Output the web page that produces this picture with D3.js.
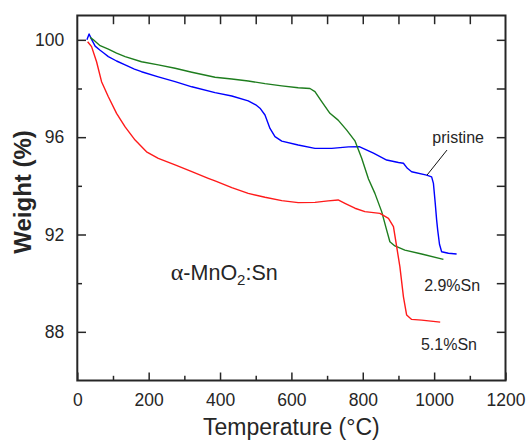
<!DOCTYPE html>
<html>
<head>
<meta charset="utf-8">
<script src="https://cdn.jsdelivr.net/npm/d3@7"></script>
<style>
  html, body { margin: 0; padding: 0; background: #fff; }
  svg { display: block; font-family: "Liberation Sans", Arial, sans-serif; }
</style>
</head>
<body>
<svg id="chart" width="527" height="441"></svg>
<script>
// TGA weight-loss curves: [temperature (°C), weight (%)]
const pristine = [
  [27, 100.00], [33, 100.24], [40, 100.02], [50, 99.74], [63, 99.58], [75, 99.45],
  [87, 99.31], [110, 99.13], [134, 98.97], [160, 98.80], [180, 98.69], [227, 98.48],
  [274, 98.28], [321, 98.07], [386, 97.83], [433, 97.69], [479, 97.49], [500, 97.33],
  [512, 97.19], [526, 96.91], [540, 96.36], [554, 96.02], [573, 95.84], [619, 95.68],
  [666, 95.54], [713, 95.54], [760, 95.60], [790, 95.61], [810, 95.48], [830, 95.34],
  [867, 95.06], [900, 94.96], [914, 94.93], [925, 94.72], [937, 94.58], [979, 94.44],
  [993, 94.37], [998, 94.10], [1003, 93.30], [1007, 92.60], [1010, 92.18], [1015, 91.60],
  [1021, 91.29], [1040, 91.23], [1063, 91.20]
];

const sn29 = [
  [36, 100.10], [45, 100.00], [64, 99.76], [87, 99.62], [110, 99.45], [134, 99.31],
  [180, 99.10], [227, 98.97], [274, 98.83], [321, 98.67], [386, 98.46], [433, 98.39],
  [479, 98.31], [526, 98.20], [573, 98.11], [619, 98.03], [652, 98.00], [666, 97.87],
  [685, 97.46], [708, 96.98], [731, 96.70], [755, 96.29], [778, 95.85], [797, 95.13],
  [816, 94.28], [834, 93.69], [853, 92.94], [867, 92.18], [876, 91.70], [890, 91.53],
  [918, 91.36], [965, 91.20], [1026, 90.98]
];

const sn51 = [
  [29, 99.92], [40, 99.72], [54, 99.10], [68, 98.28], [87, 97.66], [110, 96.98],
  [134, 96.42], [162, 95.88], [194, 95.40], [227, 95.13], [274, 94.86], [321, 94.58],
  [367, 94.31], [386, 94.20], [433, 93.93], [479, 93.69], [526, 93.53], [573, 93.39],
  [619, 93.31], [666, 93.32], [703, 93.38], [731, 93.42], [750, 93.28], [778, 93.08],
  [806, 92.94], [848, 92.87], [872, 92.66], [886, 92.32], [895, 91.50], [904, 90.68],
  [914, 89.44], [923, 88.69], [937, 88.51], [965, 88.48], [1017, 88.40]
];

const xMajorTicks = [0, 200, 400, 600, 800, 1000, 1200];
const xMinorTicks = [100, 300, 500, 700, 900, 1100];
const xMirrorTicks = [100, 200, 300, 400, 500, 600, 700, 800, 900, 1000, 1100];
const yMajorTicks = [88, 92, 96, 100];
const yMinorTicks = [90, 94, 98];
const yMirrorTicks = [88, 90, 92, 94, 96, 98, 100];

const seriesNames = ["pristine", "2.9%Sn", "5.1%Sn"];
const seriesData = [pristine, sn29, sn51];
const seriesColors = ["#0000ff", "#1e7d1e", "#ff1a1a"];

const W = 527, H = 441;
const margin = { top: 15.5, right: 21.5, bottom: 60.5, left: 77.3 };
const iw = W - margin.left - margin.right;
const ih = H - margin.top - margin.bottom;

const svg = d3.select("#chart");
const g = svg.append("g").attr("transform", `translate(${margin.left},${margin.top})`);

const x = d3.scaleLinear().domain([0, 1200]).range([0, iw]);
const y = d3.scaleLinear().domain([86, 101]).range([ih, 0]);

const ink = "#262626";

function styleAxis(sel, hideText) {
  sel.select(".domain").remove();
  sel.selectAll(".tick line").attr("stroke", ink).attr("stroke-width", 1.5);
  sel.selectAll(".tick text").attr("fill", ink).style("font-size", "17.5px")
     .style("font-family", "'Liberation Sans', Arial, sans-serif");
  if (hideText) sel.selectAll(".tick text").remove();
}

// bottom axis: major ticks with labels, minor ticks without
g.append("g").attr("transform", `translate(0,${ih})`)
  .call(d3.axisBottom(x).tickValues(xMajorTicks).tickSize(-8).tickPadding(13).tickFormat(d3.format("d")))
  .call(s => styleAxis(s, false));
g.append("g").attr("transform", `translate(0,${ih})`)
  .call(d3.axisBottom(x).tickValues(xMinorTicks).tickSize(-4.7).tickFormat(""))
  .call(s => styleAxis(s, true));

// left axis
g.append("g")
  .call(d3.axisLeft(y).tickValues(yMajorTicks).tickSize(-8.7).tickPadding(13).tickFormat(d3.format("d")))
  .call(s => styleAxis(s, false));
g.append("g")
  .call(d3.axisLeft(y).tickValues(yMinorTicks).tickSize(-4.7).tickFormat(""))
  .call(s => styleAxis(s, true));

// mirrored top and right ticks
g.append("g")
  .call(d3.axisTop(x).tickValues(xMirrorTicks).tickSize(-8.7).tickFormat(""))
  .call(s => styleAxis(s, true));
g.append("g").attr("transform", `translate(${iw},0)`)
  .call(d3.axisRight(y).tickValues(yMirrorTicks).tickSize(-8.7).tickFormat(""))
  .call(s => styleAxis(s, true));

// frame
g.append("rect").attr("x", 0).attr("y", 0).attr("width", iw).attr("height", ih)
  .attr("fill", "none").attr("stroke", ink).attr("stroke-width", 2);

// curves
const line = d3.line().x(d => x(d[0])).y(d => y(d[1]));
g.selectAll("path.curve").data(seriesData).join("path")
  .attr("class", "curve")
  .attr("d", line)
  .attr("fill", "none")
  .attr("stroke", (d, i) => seriesColors[i])
  .attr("stroke-width", 1.4)
  .attr("stroke-linejoin", "round");

// series labels
const labelStyle = s => s.attr("fill", ink).style("font-size", "16px");
g.append("text").attr("x", x(995)).attr("y", y(95.76)).text(seriesNames[0]).call(labelStyle);
g.append("text").attr("x", x(972)).attr("y", y(89.68)).text(seriesNames[1]).call(labelStyle);
g.append("text").attr("x", x(963)).attr("y", y(87.25)).text(seriesNames[2]).call(labelStyle);

// leader line from the "pristine" label to its curve
g.append("line")
  .attr("x1", x(1036)).attr("y1", y(95.47))
  .attr("x2", x(980)).attr("y2", y(94.44))
  .attr("stroke", "#111").attr("stroke-width", 1);

// sample name
const sample = g.append("text").attr("x", x(262)).attr("y", y(90.13))
  .attr("fill", ink).style("font-size", "21.5px");
sample.append("tspan").style("font-family", "'Liberation Serif', 'Times New Roman', serif").style("font-size", "24px").text("α");
sample.append("tspan").text("-MnO");
sample.append("tspan").attr("dy", 5).style("font-size", "15px").text("2");
sample.append("tspan").attr("dy", -5).text(":Sn");

// axis titles
svg.append("text")
  .attr("x", margin.left + iw / 2).attr("y", 435)
  .attr("text-anchor", "middle").attr("fill", ink)
  .style("font-size", "23px")
  .text("Temperature (°C)");

svg.append("text")
  .attr("transform", `translate(31,${margin.top + ih / 2 - 6}) rotate(-90)`)
  .attr("text-anchor", "middle").attr("fill", ink)
  .style("font-size", "24px").style("font-weight", "bold")
  .text("Weight (%)");
</script>
</body>
</html>
